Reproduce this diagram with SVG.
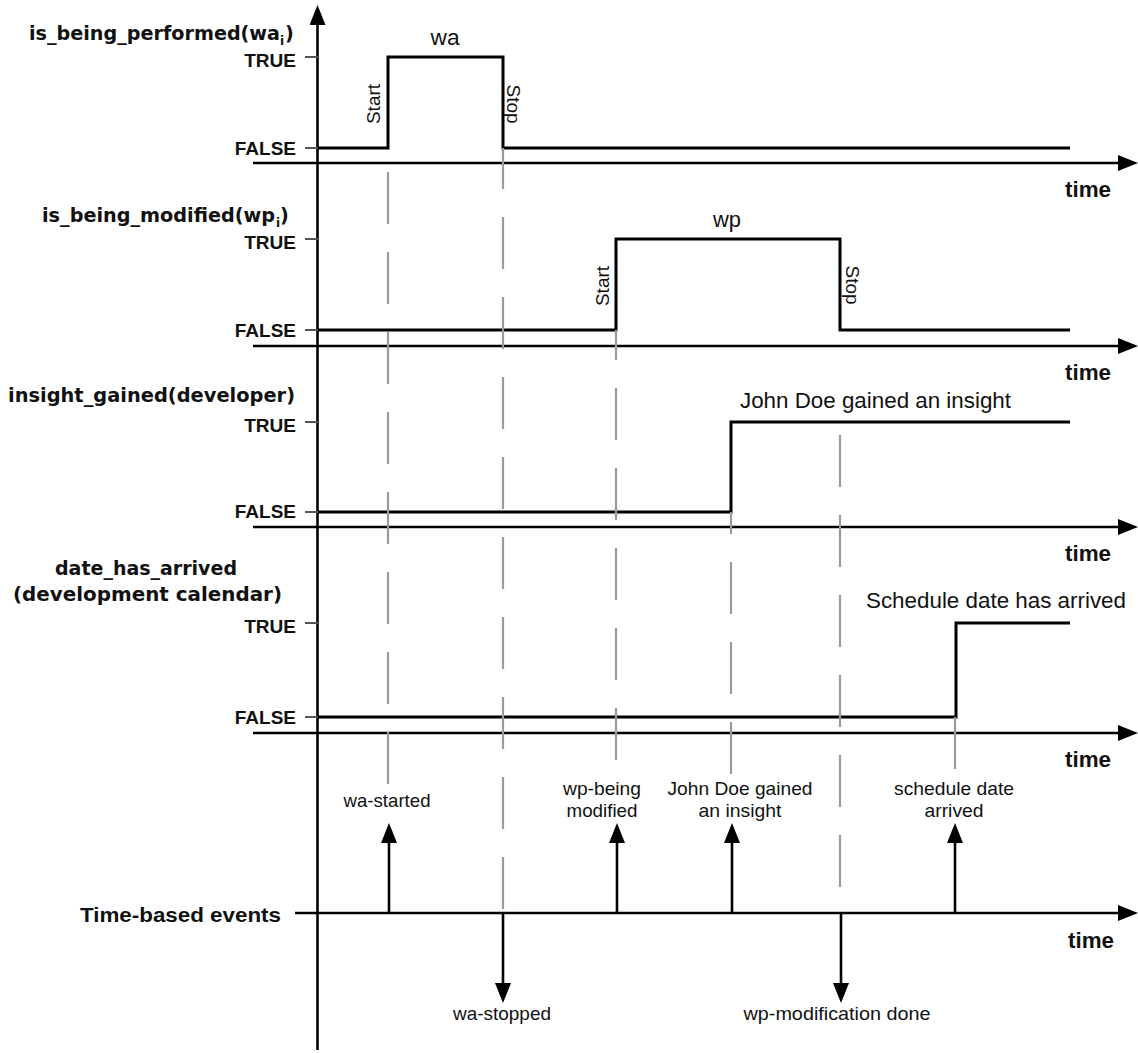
<svg xmlns="http://www.w3.org/2000/svg" width="1138" height="1053" viewBox="0 0 1138 1053">
<style>
.title{font-family:"DejaVu Sans","Liberation Sans",sans-serif;font-weight:bold;font-size:19.3px;fill:#111}
.sub{font-family:"DejaVu Sans","Liberation Sans",sans-serif;font-weight:bold;font-size:12px;fill:#111}
.lvl{font-family:"Liberation Sans",Arial,sans-serif;font-weight:bold;font-size:19px;fill:#111;text-anchor:end}
.time{font-family:"Liberation Sans",Arial,sans-serif;font-weight:bold;font-size:22px;fill:#111}
.lbl{font-family:"Liberation Sans",Arial,sans-serif;font-size:22px;fill:#111}
.rot{font-family:"Liberation Sans",Arial,sans-serif;font-size:19px;fill:#111;text-anchor:middle}
.ev{font-family:"Liberation Sans",Arial,sans-serif;font-size:19px;fill:#111;text-anchor:middle}
.axis{stroke:#000;stroke-width:2.6;fill:none}
.sig{stroke:#000;stroke-width:3;fill:none;stroke-linejoin:miter}
.tick{stroke:#555;stroke-width:2;fill:none}
.guide{stroke:#9a9a9a;stroke-width:2.2;fill:none;stroke-dasharray:52 28}
.arr{stroke:#000;stroke-width:2.6;fill:none}
</style>
<defs>
<marker id="ah" markerUnits="userSpaceOnUse" markerWidth="20" markerHeight="16" viewBox="0 0 20 16" refX="10" refY="8" orient="auto">
<path d="M0,0 L20,8 L0,16 z" fill="#000"/>
</marker>
</defs>

<g id="main-axis">
<line class="axis" x1="317.5" y1="1050" x2="317.5" y2="15" marker-end="url(#ah)"/>
</g>

<g id="chart-performed">
<text class="title" x="29" y="40" textLength="251" lengthAdjust="spacingAndGlyphs">is_being_performed(wa</text>
<text class="sub" x="280" y="45">i</text>
<text class="title" x="285" y="40">)</text>
<text class="lvl" x="296" y="67">TRUE</text>
<text class="lvl" x="296" y="155">FALSE</text>
<line class="tick" x1="305" y1="57" x2="318" y2="57"/>
<line class="tick" x1="305" y1="148" x2="318" y2="148"/>
<line class="axis" x1="253" y1="163" x2="1128" y2="163" marker-end="url(#ah)"/>
<text class="time" x="1065" y="197" textLength="46" lengthAdjust="spacingAndGlyphs">time</text>
<path class="sig" d="M318,148 H388 V57 H503 V148 H1070"/>
<text class="lbl" x="445" y="45" text-anchor="middle" textLength="29" lengthAdjust="spacingAndGlyphs">wa</text>
<text class="rot" transform="translate(373,104) rotate(-90)" dy="0.35em">Start</text>
<text class="rot" transform="translate(514,104) rotate(90)" dy="0.35em">Stop</text>
</g>

<g id="chart-modified">
<text class="title" x="42" y="222" textLength="233" lengthAdjust="spacingAndGlyphs">is_being_modified(wp</text>
<text class="sub" x="276" y="227">i</text>
<text class="title" x="280" y="222">)</text>
<text class="lvl" x="296" y="249">TRUE</text>
<text class="lvl" x="296" y="337">FALSE</text>
<line class="tick" x1="305" y1="239" x2="318" y2="239"/>
<line class="tick" x1="305" y1="330" x2="318" y2="330"/>
<line class="axis" x1="253" y1="346" x2="1128" y2="346" marker-end="url(#ah)"/>
<text class="time" x="1065" y="380" textLength="46" lengthAdjust="spacingAndGlyphs">time</text>
<path class="sig" d="M318,330 H616 V239 H840 V330 H1070"/>
<text class="lbl" x="727" y="227" text-anchor="middle" textLength="28" lengthAdjust="spacingAndGlyphs">wp</text>
<text class="rot" transform="translate(602,286) rotate(-90)" dy="0.35em">Start</text>
<text class="rot" transform="translate(853,285) rotate(90)" dy="0.35em">Stop</text>
</g>

<g id="chart-insight">
<text class="title" x="8" y="402" textLength="287" lengthAdjust="spacingAndGlyphs">insight_gained(developer)</text>
<text class="lvl" x="296" y="432">TRUE</text>
<text class="lvl" x="296" y="518">FALSE</text>
<line class="tick" x1="305" y1="422" x2="318" y2="422"/>
<line class="tick" x1="305" y1="512" x2="318" y2="512"/>
<line class="axis" x1="253" y1="527" x2="1128" y2="527" marker-end="url(#ah)"/>
<text class="time" x="1065" y="561" textLength="46" lengthAdjust="spacingAndGlyphs">time</text>
<path class="sig" d="M318,512 H731 V422 H1070"/>
<text class="lbl" x="740" y="408" textLength="271" lengthAdjust="spacingAndGlyphs">John Doe gained an insight</text>
</g>

<g id="chart-date">
<text class="title" x="55" y="575" textLength="182" lengthAdjust="spacingAndGlyphs">date_has_arrived</text>
<text class="title" x="13" y="601" textLength="269" lengthAdjust="spacingAndGlyphs">(development calendar)</text>
<text class="lvl" x="296" y="633">TRUE</text>
<text class="lvl" x="296" y="724">FALSE</text>
<line class="tick" x1="305" y1="623" x2="318" y2="623"/>
<line class="tick" x1="305" y1="717" x2="318" y2="717"/>
<line class="axis" x1="253" y1="733" x2="1128" y2="733" marker-end="url(#ah)"/>
<text class="time" x="1065" y="767" textLength="46" lengthAdjust="spacingAndGlyphs">time</text>
<path class="sig" d="M318,717 H956 V623 H1070"/>
<text class="lbl" x="866" y="608" textLength="260" lengthAdjust="spacingAndGlyphs">Schedule date has arrived</text>
</g>

<g id="events">
<text class="time" x="80" y="922" textLength="201" lengthAdjust="spacingAndGlyphs" style="font-size:21px">Time-based events</text>
<line class="axis" x1="295" y1="913" x2="1128" y2="913" marker-end="url(#ah)"/>
<text class="time" x="1068" y="948" textLength="46" lengthAdjust="spacingAndGlyphs">time</text>
<text class="ev" x="387" y="807" textLength="87" lengthAdjust="spacingAndGlyphs">wa-started</text>
<text class="ev" x="602" y="795" textLength="78" lengthAdjust="spacingAndGlyphs">wp-being</text>
<text class="ev" x="602" y="817" textLength="71" lengthAdjust="spacingAndGlyphs">modified</text>
<text class="ev" x="740" y="795" textLength="145" lengthAdjust="spacingAndGlyphs">John Doe gained</text>
<text class="ev" x="740" y="817" textLength="83" lengthAdjust="spacingAndGlyphs">an insight</text>
<text class="ev" x="954" y="795" textLength="120" lengthAdjust="spacingAndGlyphs">schedule date</text>
<text class="ev" x="954" y="817" textLength="59" lengthAdjust="spacingAndGlyphs">arrived</text>
<text class="ev" x="502" y="1020" textLength="98" lengthAdjust="spacingAndGlyphs">wa-stopped</text>
<text class="ev" x="837" y="1020" textLength="187" lengthAdjust="spacingAndGlyphs">wp-modification done</text>
</g>

<g id="connectors">
<line class="guide" x1="388" y1="172" x2="388" y2="785"/>
<line class="guide" x1="503" y1="148" x2="503" y2="912" style="stroke-dashoffset:11"/>
<line class="guide" x1="616" y1="330" x2="616" y2="762" style="stroke-dashoffset:22"/>
<line class="guide" x1="731" y1="512" x2="731" y2="775" style="stroke-dashoffset:30"/>
<line class="guide" x1="840" y1="435" x2="840" y2="888"/>
<line class="guide" x1="955" y1="717" x2="955" y2="775"/>
<line class="arr" x1="389" y1="913" x2="389" y2="833" marker-end="url(#ah)"/>
<line class="arr" x1="617" y1="913" x2="617" y2="833" marker-end="url(#ah)"/>
<line class="arr" x1="732" y1="913" x2="732" y2="833" marker-end="url(#ah)"/>
<line class="arr" x1="955" y1="913" x2="955" y2="833" marker-end="url(#ah)"/>
<line class="arr" x1="503" y1="913" x2="503" y2="993" marker-end="url(#ah)"/>
<line class="arr" x1="841" y1="913" x2="841" y2="993" marker-end="url(#ah)"/>
</g>
</svg>
